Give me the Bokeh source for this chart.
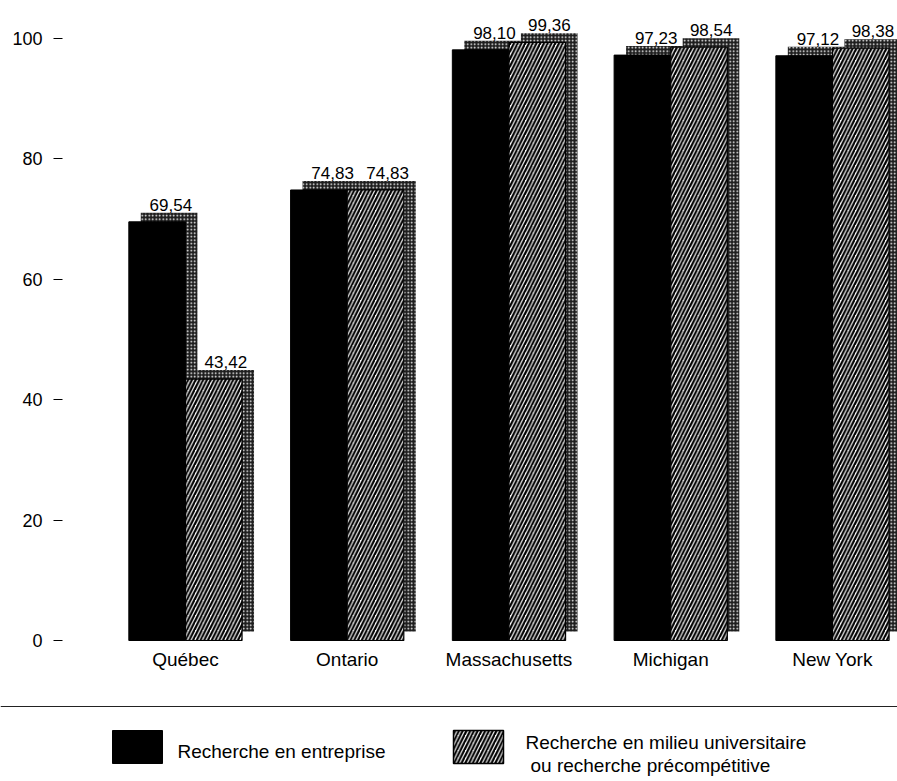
import numpy as np
from bokeh.plotting import figure
from bokeh.models import Range1d, FixedTicker, ColumnDataSource
from bokeh.layouts import column
from bokeh.core.properties import value
from bokeh.embed import file_html
from bokeh.resources import INLINE

# ---- data ----
regions = ["Québec", "Ontario", "Massachusetts", "Michigan", "New York"]
entreprise = [69.54, 74.83, 98.10, 97.23, 97.12]
universitaire = [43.42, 74.83, 99.36, 98.54, 98.38]
y_ticks = [0, 20, 40, 60, 80, 100]
legend_labels = ["Recherche en entreprise",
                 "Recherche en milieu universitaire",
                 "ou recherche précompétitive"]

FONT = "Liberation Sans"

# ---- geometry / style constants ----
BAR_W = 0.35
SH_DX = 0.074   # shadow offset (x, data units)
SH_DY = 1.5     # shadow offset (y, data units)

xs = np.arange(len(regions), dtype=float)
v1 = np.array(entreprise)
v2 = np.array(universitaire)

p = figure(width=897, height=690, output_backend="svg", toolbar_location=None,
           x_range=Range1d(-0.760, 4.402), y_range=Range1d(-0.83, 106.3),
           min_border_left=62, min_border_right=0, min_border_top=0,
           min_border_bottom=45)
p.outline_line_color = None
p.xgrid.visible = False
p.ygrid.visible = False
p.background_fill_color = "white"
p.border_fill_color = "white"
p.frame_align = False


def fmt(v):
    return f"{v:.2f}".replace(".", ",")


src1 = ColumnDataSource(dict(x=xs - BAR_W / 2, top=v1, sx=xs - BAR_W / 2 + SH_DX,
                             stop=v1 + SH_DY, lx=xs - BAR_W / 2 + 0.085,
                             ly=v1 + SH_DY + 1.3, lab=[fmt(v) for v in v1]))
src2 = ColumnDataSource(dict(x=xs + BAR_W / 2, top=v2, sx=xs + BAR_W / 2 + SH_DX,
                             stop=v2 + SH_DY, lx=xs + BAR_W / 2 + 0.075,
                             ly=v2 + SH_DY + 1.3, lab=[fmt(v) for v in v2]))

shadow_kw = dict(width=BAR_W, bottom=SH_DY, fill_color="#1e1e1e", line_color=None,
                 hatch_pattern="dot", hatch_color="white", hatch_scale=3.5,
                 hatch_weight=1)
p.vbar(x="sx", top="stop", source=src1, **shadow_kw)
p.vbar(x="sx", top="stop", source=src2, **shadow_kw)

p.vbar(x="x", top="top", bottom=0, width=BAR_W, source=src1,
       fill_color="black", line_color="black", line_width=1)
p.vbar(x="x", top="top", bottom=0, width=BAR_W, source=src2,
       fill_color="white", line_color="black", line_width=1.2,
       hatch_pattern="/", hatch_color="black", hatch_scale=7.5, hatch_weight=2.2)

for s in (src1, src2):
    p.text(x="lx", y="ly", text="lab", source=s, text_align="center",
           text_baseline="alphabetic", text_font=value(FONT),
           text_font_size="17px", text_color="black")

# y axis
p.yaxis.ticker = FixedTicker(ticks=y_ticks)
p.yaxis.axis_line_color = None
p.yaxis.major_tick_out = 9
p.yaxis.major_tick_in = 0
p.yaxis.minor_tick_line_color = None
p.yaxis.major_tick_line_color = "black"
p.yaxis.major_label_standoff = 11
p.yaxis.major_label_text_font = FONT
p.yaxis.major_label_text_font_size = "18px"
p.yaxis.major_label_text_color = "black"

# x axis (categories)
p.xaxis.ticker = FixedTicker(ticks=list(xs))
p.xaxis.major_label_overrides = {float(i): r for i, r in zip(xs, regions)}
p.xaxis.axis_line_color = None
p.xaxis.major_tick_line_color = None
p.xaxis.minor_tick_line_color = None
p.xaxis.major_tick_out = 0
p.xaxis.major_tick_in = 0
p.xaxis.major_label_standoff = 3
p.xaxis.major_label_text_font = FONT
p.xaxis.major_label_text_font_size = "19px"
p.xaxis.major_label_text_color = "black"

# ---- legend panel ----
lg = figure(width=897, height=91, output_backend="svg", toolbar_location=None,
            x_range=Range1d(0, 897), y_range=Range1d(781, 690),
            x_axis_type=None, y_axis_type=None,
            min_border=0, min_border_left=0, min_border_right=0,
            min_border_top=0, min_border_bottom=0)
lg.outline_line_color = None
lg.xgrid.visible = False
lg.ygrid.visible = False
lg.frame_align = False

lg.segment(x0=[0], y0=[706], x1=[897], y1=[706], line_color="#222222", line_width=1.2)
lg.quad(left=[112], right=[162], top=[730], bottom=[763],
        fill_color="black", line_color="black")
lg.quad(left=[453], right=[503], top=[730], bottom=[763],
        fill_color="white", line_color="black", line_width=1.5,
        hatch_pattern="/", hatch_color="black", hatch_scale=7.5, hatch_weight=2.2)
lg.text(x=[177, 525, 530], y=[751, 742, 765], text=legend_labels,
        text_align="left", text_baseline="middle", text_font=value(FONT),
        text_font_size="19px", text_color="black")

layout = column(p, lg, spacing=0)
open("out.html", "w").write(file_html(layout, INLINE))
